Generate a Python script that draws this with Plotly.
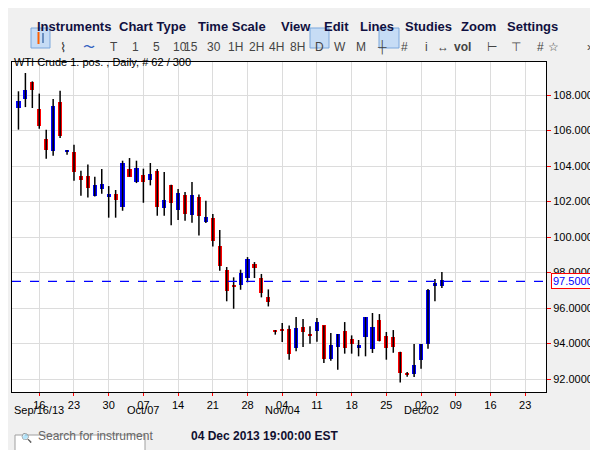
import plotly.graph_objects as go

opens  = [107.27,107.79,108.73,107.21,105.54,104.86,107.63,104.79,104.79,103.44,103.46,102.33,102.72,102.27,102.42,101.71,103.83,103.10,103.49,103.21,103.72,101.65,102.93,101.54,102.37,101.26,102.25,100.86,101.07,99.49,98.14,97.26,97.31,97.71,98.48,97.69,96.62,94.76,94.78,94.82,93.77,94.93,94.54,94.72,95.02,93.15,93.82,94.70,94.25,93.75,94.37,93.71,95.34,94.42,94.37,93.52,92.34,92.28,93.09,93.97,97.24,97.24]
highs  = [108.21,109.24,108.77,108.08,106.05,107.78,108.24,104.90,105.20,103.74,104.08,103.40,103.83,102.87,102.65,104.30,104.45,104.30,103.85,104.17,103.83,103.66,102.95,102.70,102.54,103.10,102.39,102.05,101.30,100.40,98.31,97.73,98.16,98.87,98.59,97.92,97.05,94.76,95.16,95.02,95.49,95.38,94.97,95.44,95.02,94.59,94.54,95.21,94.46,94.20,95.49,95.72,95.66,94.65,94.76,93.54,92.39,93.97,93.97,97.07,97.63,98.03]
lows   = [106.05,107.32,107.27,106.10,104.41,104.58,105.58,104.64,103.17,102.33,102.22,102.29,102.44,101.09,101.09,101.48,103.40,103.04,101.93,102.91,101.20,101.20,100.66,100.96,100.92,100.81,100.09,100.79,99.47,98.10,96.38,95.96,97.03,97.45,97.69,96.60,96.09,94.50,94.09,93.09,93.56,93.80,93.99,94.10,92.90,93.03,92.53,93.43,93.43,93.28,93.28,93.47,94.12,93.09,93.48,91.81,92.13,92.11,92.58,93.71,96.38,97.13]
closes = [107.68,108.28,108.30,106.27,104.92,107.38,105.67,104.83,103.68,103.23,102.78,102.93,102.99,102.42,102.10,104.17,103.40,103.89,103.12,103.57,101.71,102.08,101.93,102.48,101.32,102.39,101.20,101.13,99.79,98.39,96.94,97.20,97.97,98.76,98.27,96.86,96.36,94.67,94.72,93.43,94.87,94.67,94.44,95.21,93.15,93.92,94.54,93.75,93.99,93.92,95.49,94.93,94.12,93.75,93.78,92.36,92.23,92.79,93.97,97.03,97.41,97.58]
last_price = 97.50
tick_index = [4,9,14,19,24,29,34,39,44,49,54,59,64,69,74]
tick_text = ["16","23","30","07","14","21","28","04","11","18","25","02","09","16","23"]
month_index = [4,19,39,59]
month_text = ["Sep/16/13","Oct/07","Nov/04","Dec/02"]

idx = list(range(1, len(opens)+1))
wx, wy = [], []
for i, h, l in zip(idx, highs, lows):
    wx += [i, i, None]; wy += [l, h, None]
base = [min(o, c) for o, c in zip(opens, closes)]
hgt = [max(abs(c-o), 0.06) for o, c in zip(opens, closes)]
col = ["#0000ff" if c >= o else "#ff0000" for o, c in zip(opens, closes)]

fig = go.Figure()
fig.add_trace(go.Scatter(x=wx, y=wy, mode="lines", line=dict(color="black", width=1.5), hoverinfo="skip"))
fig.add_trace(go.Bar(x=idx, y=hgt, base=base, width=0.6, opacity=1,
                     marker=dict(color=col, line=dict(width=0))))

fig.update_layout(
    width=598, height=450, showlegend=False, bargap=0,
    paper_bgcolor="#f0f0f0", plot_bgcolor="white",
    margin=dict(l=4, r=60, t=54, b=66, autoexpand=False),
    font=dict(family="Arial, Liberation Sans", size=11, color="black"),
    xaxis=dict(range=[0.07, 77.0], tickvals=tick_index, ticktext=tick_text, showgrid=True,
               gridcolor="#dcdcdc", showline=True, linecolor="black", mirror=True, automargin=False,
               ticks="outside", tickcolor="red", ticklen=3, zeroline=False, fixedrange=True),
    yaxis=dict(range=[91.27, 109.86], side="right", dtick=2, tickformat=".4f", showgrid=True,
               gridcolor="#dcdcdc", showline=True, linecolor="black", mirror=True, automargin=False,
               ticks="outside", tickcolor="red", ticklen=4, zeroline=False),
)
fig.add_shape(type="line", xref="paper", x0=0, x1=1, y0=last_price, y1=last_price,
              line=dict(color="#0000ff", dash="dash", width=1.2))
fig.add_annotation(xref="paper", x=1.01, y=last_price, text=f"{last_price:.4f}", showarrow=False,
                   xanchor="left", font=dict(color="#0000ff", size=11), bgcolor="white",
                   bordercolor="red", borderwidth=1, borderpad=1)

P = dict(xref="paper", yref="paper", showarrow=False)
def px(x): return (x - 4) / 534
def py(y): return 1 - (y - 54) / 330
for i, t in zip(month_index, month_text):
    fig.add_annotation(x=i, yref="paper", y=py(410), text=t, showarrow=False, font=dict(size=11))
menus = [("Instruments", 27), ("Chart Type", 109), ("Time Scale", 188), ("View", 271), ("Edit", 314),
         ("Lines", 350), ("Studies", 395), ("Zoom", 451), ("Settings", 497), ("»", 588)]
for t, x in menus:
    fig.add_annotation(**P, x=px(x), y=py(9), xanchor="left", text=f"<b>{t}</b>",
                       font=dict(size=13, color="#101040", family="Arial, Liberation Sans"))
for x0, x1 in [(23, 42), (302, 321), (371, 391)]:
    fig.add_shape(type="rect", xref="paper", yref="paper", x0=px(x0), x1=px(x1), y0=py(40), y1=py(20),
                  fillcolor="#c6dcf5", line=dict(color="#7aa7dc", width=1))
fig.add_shape(type="rect", xref="paper", yref="paper", x0=px(29.5), x1=px(31.5), y0=py(36), y1=py(24),
              fillcolor="#ff6000", line=dict(width=0))
fig.add_shape(type="rect", xref="paper", yref="paper", x0=px(34), x1=px(36), y0=py(35), y1=py(25),
              fillcolor="#6a8fc0", line=dict(width=0))
tools = [("T", 100), ("1", 122), ("5", 143), ("10", 163), ("15", 183), ("30", 206), ("1H", 227), ("2H", 248),
         ("4H", 268), ("8H", 289), ("D", 311), ("W", 332), ("M", 353), ("┼", 381), ("#", 402), ("i", 422),
         ("↔", 443), ("<b>vol</b>", 465), ("⊢", 491), ("⊤", 515), ("#", 538), ("☆", 553), ("»", 588)]
for t, x in tools:
    fig.add_annotation(**P, x=px(x), y=py(30), text=t, font=dict(size=12, color="#444"))
fig.add_annotation(**P, x=px(50), y=py(30), text="⌇", font=dict(size=13, color="#333"))
fig.add_annotation(**P, x=px(73), y=py(30), text="〜", font=dict(size=12, color="#3060c0"))
fig.add_annotation(**P, x=px(4), y=py(46), xanchor="left", text="WTI Crude 1. pos. , Daily, # 62 / 300",
                   font=dict(size=11))
fig.add_shape(type="rect", xref="paper", yref="paper", x0=px(7), x1=px(137), y0=py(447), y1=py(427),
              fillcolor="white", line=dict(color="#a0a0a0", width=1))
fig.add_annotation(**P, x=px(11), y=py(437), xanchor="left", text="🔍", font=dict(size=9, color="#555"))
fig.add_annotation(**P, x=px(28), y=py(437), xanchor="left", text="Search for instrument",
                   font=dict(size=12, color="#666"))
fig.add_annotation(**P, x=px(181), y=py(437), xanchor="left", text="<b>04 Dec 2013 19:00:00 EST</b>",
                   font=dict(size=12, color="#101030"))
fig.write_html("out.html")
